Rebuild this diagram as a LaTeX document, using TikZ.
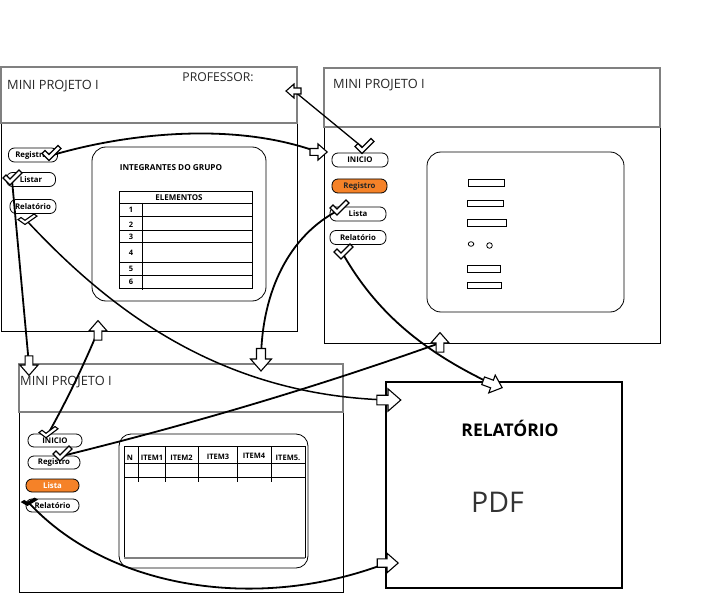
\documentclass[tikz,border=0pt]{standalone}
\usepackage{fontspec}
\setmainfont{Open Sans}
\definecolor{orng}{RGB}{245,130,40}
\definecolor{hdrgray}{RGB}{128,128,128}
\begin{document}
\begin{tikzpicture}[x=1pt,y=-1pt,
  hdrbox/.style={draw=hdrgray, line width=1.5pt},
  bodybox/.style={draw=black, line width=0.8pt},
  hdrtxt/.style={anchor=west, inner sep=0, font=\fontsize{12.8}{14}\selectfont, text=black!85},
  btn/.style={draw, rounded corners=6pt, line width=0.8pt, inner sep=0, minimum height=14pt, font=\bfseries\fontsize{7.8}{9}\selectfont},
  panel/.style={draw, rounded corners=14pt, line width=0.8pt},
  tbl/.style={draw, line width=0.8pt},
  small/.style={inner sep=0, font=\bfseries\fontsize{7.5}{8}\selectfont},
  conn/.style={line width=1.8pt},
  pics/barrow/.style={code={\draw[line width=1.1pt, fill=white, line join=miter] (-7,-3)--(0,-3)--(0,-7)--(8,0)--(0,7)--(0,3)--(-7,3)--cycle;}},
  pics/chk/.style={code={\draw[line width=1.1pt, fill=white, line join=miter] (-9,-2)--(-6,-5)--(-2,-1)--(7,-10)--(10,-7)--(-2,5)--cycle;}},
  pics/chkdark/.style={code={\draw[line width=1.1pt, fill=black, line join=miter] (-9,-2)--(-6,-5)--(-2,-1)--(7,-10)--(10,-7)--(-2,5)--cycle;}}
]
\useasboundingbox (0,0) rectangle (710,599);

% ---------- Window 1 ----------
\draw[bodybox] (1,123) rectangle (297,331);
\draw[hdrbox] (1,67) rectangle (297,123);
\node[hdrtxt] (w1title) at (7,86) {MINI PROJETO I};
\node[inner sep=0, font=\fontsize{12.2}{14}\selectfont, text=black!85] (w1prof) at (218,77) {PROFESSOR:};
\node[btn, minimum width=49pt] (w1reg) at (33,155) {Registrar};
\node[btn, minimum width=49pt] (w1lis) at (31,179.5) {Listar};
\node[btn, minimum width=46pt] (w1rel) at (33,206.5) {Relatório};
\draw[panel] (92,147) rectangle (266,301);
\node[small, font=\bfseries\fontsize{8.2}{9}\selectfont] (w1int) at (171,168) {INTEGRANTES DO GRUPO};
\draw[tbl] (119,191) rectangle (252,288);
\foreach \yy in {203,216,230,242,262,275} \draw[tbl] (119,\yy) -- (252,\yy);
\draw[tbl] (142,203) -- (142,290);
\node[small, font=\bfseries\fontsize{8}{9}\selectfont] (w1elem) at (179,197.5) {ELEMENTOS};
\node[small] (n1) at (131,209.5) {1};
\node[small] (n2) at (131,224.5) {2};
\node[small] (n3) at (131,236.5) {3};
\node[small] (n4) at (131,252.5) {4};
\node[small] (n5) at (131,268.5) {5};
\node[small] (n6) at (131,282) {6};

% ---------- Window 2 ----------
\draw[bodybox] (324,127) rectangle (660,343);
\draw[hdrbox] (324,68) rectangle (660,127);
\node[hdrtxt] (w2title) at (333,85) {MINI PROJETO I};
\node[btn, minimum width=56pt] (w2ini) at (360,160) {INICIO};
\node[btn, minimum width=55pt, fill=orng, text=black!85] (w2reg) at (359.5,186) {Registro};
\node[btn, minimum width=56pt] (w2lis) at (358,214) {Lista};
\node[btn, minimum width=56pt] (w2rel) at (358,237.5) {Relatório};
\draw[panel] (427,152) rectangle (624,312);
\draw[line width=0.8pt] (468,179) rectangle (504,186);
\draw[line width=0.8pt] (467,200) rectangle (503,206);
\draw[line width=0.8pt] (467,219) rectangle (506,226);
\draw[line width=0.8pt] (471,244) circle[x radius=2.8pt, y radius=2.3pt];
\draw[line width=0.8pt] (489.5,245.5) circle[radius=2.8pt];
\draw[line width=0.8pt] (467,265) rectangle (500,272);
\draw[line width=0.8pt] (467,282) rectangle (501,288);

% ---------- Window 3 ----------
\draw[bodybox] (19,412) rectangle (343,592);
\draw[hdrbox] (19,364) rectangle (343,412);
\node[hdrtxt] (w3title) at (20,382) {MINI PROJETO I};
\node[btn, minimum width=54pt, minimum height=13pt] (w3ini) at (55,440.5) {INICIO};
\node[btn, minimum width=52pt, minimum height=13pt] (w3reg) at (54,462.5) {Registro};
\node[btn, minimum width=53pt, minimum height=13pt, fill=orng, text=white] (w3lis) at (52.5,485.5) {Lista};
\node[btn, minimum width=53pt, minimum height=13pt] (w3rel) at (52.5,505.5) {Relatório};
\draw[panel, rounded corners=12pt] (119,434) rectangle (308,568);
\draw[tbl] (124,446) -- (305,446);
\draw[tbl] (124,446) -- (124,558);
\draw[tbl] (305,446) -- (305,558);
\draw[line width=1.5pt, draw=hdrgray] (124,558) -- (305,558);
\draw[tbl] (124,463) -- (305,463);
\draw[tbl] (124,477) -- (305,477);
\foreach \xx in {138,165,198,237,271} \draw[tbl] (\xx,446) -- (\xx,482);
\node[small] (hN) at (130,458) {N};
\node[small] (h1) at (152,458) {ITEM1};
\node[small] (h2) at (181.5,458) {ITEM2};
\node[small] (h3) at (218,457) {ITEM3};
\node[small] (h4) at (254,456) {ITEM4};
\node[small] (h5) at (288,458) {ITEM5.};

% ---------- PDF box ----------
\draw[line width=2pt] (386,382) rectangle (622,588);
\node[inner sep=0, font=\bfseries\fontsize{17.5}{20}\selectfont] (reltitle) at (510,428) {RELATÓRIO};
\node[inner sep=0, font=\fontsize{28.5}{32}\selectfont, text=black!80] (pdf) at (497.5,502) {PDF};

% ---------- connector end points ----------
\coordinate (k1) at (51,155.5);
\coordinate (k2) at (12,180);
\coordinate (k3) at (27,221);
\coordinate (k4) at (364,148.5);
\coordinate (k5) at (339,210);
\coordinate (k6) at (343,254);
\coordinate (k7) at (48,434);
\coordinate (k8) at (62,456);
\coordinate (k9) at (29,503);
\coordinate (a1) at (318,152);
\coordinate (a2) at (294,91);
\coordinate (a3) at (29,365);
\coordinate (a4) at (98,331);
\coordinate (a5) at (388,400);
\coordinate (a6) at (492,384);
\coordinate (a7) at (440,343);
\coordinate (a8) at (261,359);
\coordinate (a9) at (387,563);

% ---------- connectors ----------
\draw[conn] (k1) .. controls (120,135) and (230,120) .. (a1);
\draw[line width=1.3pt] (k4) -- (a2);
\draw[conn] (k2) -- (a3);
\draw[conn] (k7) .. controls (70,395) and (88,355) .. (a4);
\draw[line width=1.5pt] (k3) .. controls (110,310) and (220,395) .. (a5);
\draw[conn] (k6) .. controls (375,310) and (420,350) .. (a6);
\draw[conn] (k8) .. controls (188,425) and (314,388) .. (a7);
\draw[conn] (k5) .. controls (290,235) and (262,290) .. (a8);
\draw[conn] (k9) .. controls (110,590) and (260,612) .. (a9);

% ---------- arrow heads ----------
\pic[scale=1.15] at (a1) {barrow};
\pic[rotate=180] at (a2) {barrow};
\pic[rotate=-90, scale=1.3] at (a3) {barrow};
\pic[rotate=90, scale=1.3] at (a4) {barrow};
\pic[scale=1.6] at (a5) {barrow};
\pic[rotate=-20, scale=1.35] at (a6) {barrow};
\pic[rotate=90, scale=1.3] at (a7) {barrow};
\pic[rotate=-90, scale=1.5] at (a8) {barrow};
\pic[scale=1.4] at (a9) {barrow};

% ---------- check marks ----------
\pic at (k1) {chk};
\pic at (k2) {chk};
\pic[yscale=0.7] at (k3) {chk};
\pic at (k4) {chk};
\pic at (k5) {chk};
\pic at (k6) {chk};
\pic[yscale=0.75] at (k7) {chk};
\pic at (k8) {chk};
\pic[scale=0.8, yscale=0.6] at (k9) {chkdark};
\end{tikzpicture}
\end{document}
